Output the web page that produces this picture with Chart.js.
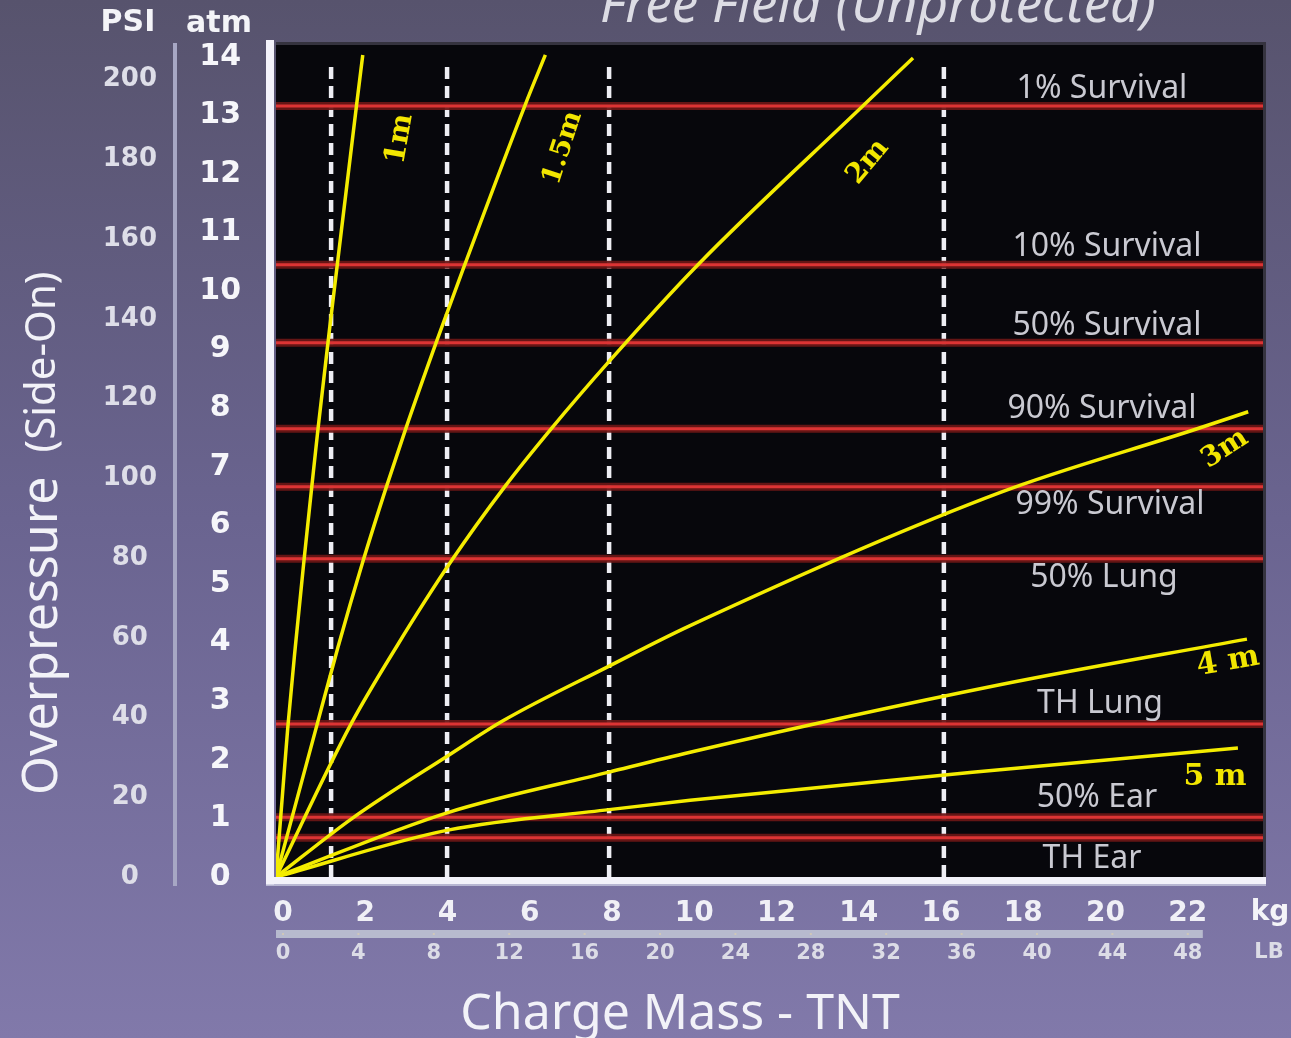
<!DOCTYPE html>
<html><head><meta charset="utf-8">
<script src="https://cdn.jsdelivr.net/npm/chart.js@4.4.1/dist/chart.umd.min.js"></script>
<style>
html,body{margin:0;padding:0;overflow:hidden;background:#6b6590;}
#wrap{width:1291px;height:1038px;background:linear-gradient(to bottom,#57536d 0%,#6a6490 50%,#8179aa 100%);}
canvas{display:block}
</style></head><body>
<div id="wrap"><canvas id="c" width="1291" height="1038"></canvas></div>
<script>
// ---- tick labels ----
const psiTicks = [0,20,40,60,80,100,120,140,160,180,200];
const atmTicks = [0,1,2,3,4,5,6,7,8,9,10,11,12,13,14];
const kgTicks  = [0,2,4,6,8,10,12,14,16,18,20,22];
const lbTicks  = [0,4,8,12,16,20,24,28,32,36,40,44,48];

// ---- dashed reference masses (kg) ----
const dashedKg = [1.34, 4.16, 8.10, 16.24];
const dashedTopAtm = 13.83;

// ---- injury / survival thresholds (atm) ----
const levelNames = ['1% Survival','10% Survival','50% Survival','90% Survival','99% Survival','50% Lung','TH Lung','50% Ear','TH Ear'];
const levelAtm   = [13.16, 10.45, 9.12, 7.65, 6.66, 5.43, 2.61, 1.02, 0.67];

// ---- stand-off distance curves: charge mass (kg) vs overpressure (atm) ----
const curveNames = ['1m','1.5m','2m','3m','4 m','5 m'];
const kg1m   = [0, 0.17, 0.29, 0.47, 0.68, 0.87, 1.02, 1.30, 1.49, 1.96, 2.11];
const atm1m  = [0, 1.52, 2.58, 3.93, 5.40, 6.66, 7.64, 9.34, 10.45, 13.18, 14.03];
const kg15m  = [0, 0.99, 1.51, 2.12, 2.68, 3.15, 3.92, 4.59, 6.06, 6.55];
const atm15m = [0, 2.58, 3.93, 5.40, 6.65, 7.64, 9.17, 10.45, 13.18, 14.03];
const kg2m   = [0, 1.80, 2.93, 4.27, 5.55, 6.68, 8.10, 10.26, 14.30, 15.49];
const atm2m  = [0, 2.58, 3.93, 5.40, 6.65, 7.64, 8.80, 10.45, 13.18, 13.98];
const kg3m   = [0, 1.87, 4.18, 5.53, 8.10, 10.07, 17.60, 22.40, 23.64];
const atm3m  = [0, 1.01, 2.07, 2.67, 3.60, 4.29, 6.56, 7.65, 7.94];
const kg4m   = [0, 4.18, 8.10, 10.07, 17.60, 23.61];
const atm4m  = [0, 1.10, 1.79, 2.13, 3.28, 4.06];
const kg5m   = [0, 4.18, 8.10, 10.07, 17.60, 23.39];
const atm5m  = [0, 0.80, 1.15, 1.31, 1.83, 2.20];
const curveKg  = [kg1m, kg15m, kg2m, kg3m, kg4m, kg5m];
const curveAtm = [atm1m, atm15m, atm2m, atm3m, atm4m, atm5m];

// ---- layout / style (not data) ----
const levelLabelX  = [1102,1107,1107,1102,1110,1104,1100,1097,1092];
const levelLabelDy = [-17,-18,-17,-20,18,19,-20,-19,21];
const curveLabelPos = [[400,139,-80,29],[563,148,-72,27],[868,162,-50,28],[1225,449,-33,28],[1228,662,-10,30],[1215,777,0,30]];

const datasets = [];
curveKg.forEach((xs,i)=>{
  datasets.push({label:curveNames[i], data:xs.map((x,j)=>({x:x,y:curveAtm[i][j]})),
    borderColor:'#f4ec00', borderWidth:3.5, pointRadius:0, cubicInterpolationMode:'monotone',
    fill:false, order:0, xAxisID:'x', yAxisID:'y'});
});
levelAtm.forEach((v,i)=>{
  datasets.push({label:levelNames[i], data:[{x:0,y:v},{x:24,y:v}], borderColor:'#dc3434',
    borderWidth:3, pointRadius:0, order:1, xAxisID:'x', yAxisID:'y'});
  datasets.push({label:levelNames[i]+' halo', data:[{x:0,y:v},{x:24,y:v}], borderColor:'rgba(105,22,22,0.95)',
    borderWidth:8, pointRadius:0, order:2, xAxisID:'x', yAxisID:'y'});
});
dashedKg.forEach(v=>{
  datasets.push({label:'ref '+v, data:[{x:v,y:0},{x:v,y:dashedTopAtm}], borderColor:'#eeeef4',
    borderWidth:4.5, borderDash:[12,7], pointRadius:0, order:3, xAxisID:'x', yAxisID:'y'});
});

function setTicks(arr){ return s=>{ s.ticks = arr.map(v=>({value:v})); }; }
function fixW(w){ return s=>{ s.width=w; s.paddingTop=0; s.paddingBottom=0; s.paddingLeft=0; s.paddingRight=0; }; }
function fixH(h){ return s=>{ s.height=h; s.paddingTop=0; s.paddingBottom=0; s.paddingLeft=0; s.paddingRight=0; }; }

const deco = {
  id:'deco',
  beforeDatasetsDraw(chart){
    const {ctx, chartArea:a} = chart;
    ctx.save();
    ctx.fillStyle = '#07070c';
    ctx.fillRect(a.left, a.top, a.right-a.left, a.bottom-a.top);
    ctx.strokeStyle = '#35333f'; ctx.lineWidth = 3;
    ctx.beginPath(); ctx.moveTo(a.left, a.top-1.5); ctx.lineTo(a.right+1.5, a.top-1.5); ctx.lineTo(a.right+1.5, a.bottom); ctx.stroke();
    ctx.restore();
  },
  afterDatasetsDraw(chart){
    const {ctx} = chart;
    const ys = chart.scales.y;
    ctx.save();
    ctx.font = '32px "Noto Sans"';
    ctx.fillStyle = '#c9c9d1';
    ctx.textAlign = 'center'; ctx.textBaseline = 'middle';
    levelNames.forEach((n,i)=>{
      ctx.fillText(n, levelLabelX[i], ys.getPixelForValue(levelAtm[i]) + levelLabelDy[i]);
    });
    ctx.fillStyle = '#f2e600';
    curveNames.forEach((n,i)=>{
      const p = curveLabelPos[i];
      ctx.save();
      ctx.translate(p[0], p[1]); ctx.rotate(p[2]*Math.PI/180);
      ctx.font = 'bold '+p[3]+'px "DejaVu Serif"';
      ctx.fillText(n, 0, 0);
      ctx.restore();
    });
    ctx.restore();
  },
  afterDraw(chart){
    const {ctx, chartArea:a} = chart;
    const x2 = chart.scales.x2, yp = chart.scales.psi;
    ctx.save();
    // frame lines
    ctx.fillStyle = '#f3f2fa';
    ctx.fillRect(a.left-10, a.top-5, 8, a.bottom-a.top+13);
    ctx.fillRect(a.left-10, a.bottom, a.right-a.left+13, 7);
    ctx.fillStyle = 'rgba(200,200,222,0.8)';
    ctx.fillRect(a.left-10, a.bottom+7, a.right-a.left+13, 2);
    // separator between PSI and atm
    ctx.fillStyle = '#a7a7c4';
    ctx.fillRect(yp.right-3, a.top-2, 4, a.bottom-a.top+11);
    // LB band
    ctx.fillStyle = '#b7bace';
    ctx.fillRect(x2.getPixelForValue(0), 930, x2.getPixelForValue(48)+22 - x2.getPixelForValue(0), 8);
    ctx.fillStyle = '#cfc7b8';
    lbTicks.forEach(v=>{ ctx.fillRect(x2.getPixelForValue(v)+6, 933, 2, 2); });
    // axis headers
    ctx.fillStyle = '#f4f4f8';
    ctx.font = 'bold 30px "DejaVu Sans"';
    ctx.textAlign = 'center'; ctx.textBaseline = 'middle';
    ctx.fillText('PSI', 128, 23);
    ctx.fillText('atm', 219, 24);
    // unit labels
    ctx.font = 'bold 28px "DejaVu Sans"';
    ctx.fillText('kg', 1270, 913);
    ctx.fillStyle = '#dcdce6';
    ctx.font = 'bold 21px "DejaVu Sans"';
    ctx.fillText('LB', 1269, 953);
    // top title (cut off)
    ctx.fillStyle = '#dcdce4';
    ctx.textAlign = 'left'; ctx.textBaseline = 'alphabetic';
    ctx.font = 'italic 53px "Noto Sans"';
    ctx.fillText('Free Field (Unprotected)', 600, 22);
    // x title
    ctx.fillStyle = '#f2f2f8';
    ctx.textAlign = 'center';
    ctx.font = '50px "Noto Sans"';
    ctx.fillText('Charge Mass - TNT', 680, 1029);
    // y title
    ctx.translate(57, 795); ctx.rotate(-Math.PI/2);
    ctx.textAlign = 'left';
    ctx.font = '50px "Noto Sans"';
    ctx.fillText('Overpressure', 0, 0);
    const w = ctx.measureText('Overpressure').width;
    ctx.font = '42px "Noto Sans"';
    ctx.fillText('(Side-On)', w+24, -2);
    ctx.restore();
  }
};

const noGrid = {display:false, drawTicks:false};
new Chart(document.getElementById('c'), {
  type:'line',
  data:{datasets},
  options:{
    responsive:false, animation:false, events:[],
    layout:{padding:{left:0, right:28, top:45, bottom:71}},
    plugins:{legend:{display:false}, tooltip:{enabled:false}},
    scales:{
      x:{type:'linear', position:'bottom', min:0, max:24, weight:0,
         grid:noGrid, border:{display:false},
         afterBuildTicks:setTicks(kgTicks), afterFit:fixH(50),
         ticks:{padding:20, labelOffset:7, autoSkip:false, maxRotation:0, color:'#f0f0f6',
                font:{family:'DejaVu Sans', weight:'bold', size:28}}},
      x2:{type:'linear', position:'bottom', min:0, max:52.36, weight:1,
         grid:noGrid, border:{display:false},
         afterBuildTicks:setTicks(lbTicks), afterFit:fixH(40),
         ticks:{padding:14, labelOffset:7, autoSkip:false, maxRotation:0, color:'#dcdce6',
                font:{family:'DejaVu Sans', weight:'bold', size:21}}},
      y:{type:'linear', position:'left', min:0, max:14.2, weight:0,
         grid:noGrid, border:{display:false},
         afterBuildTicks:setTicks(atmTicks), afterFit:fixW(100),
         ticks:{padding:35, crossAlign:'center', autoSkip:false, color:'#f6f6fa',
                font:{family:'DejaVu Sans', weight:'bold', size:30}}},
      psi:{type:'linear', position:'left', min:0, max:208.7, weight:1,
         grid:noGrid, border:{display:false},
         afterBuildTicks:setTicks(psiTicks), afterFit:fixW(176),
         ticks:{padding:19, crossAlign:'center', autoSkip:false, color:'#dedee8',
                font:{family:'DejaVu Sans', weight:'bold', size:26}}}
    }
  },
  plugins:[deco]
});
</script>
</body></html>
